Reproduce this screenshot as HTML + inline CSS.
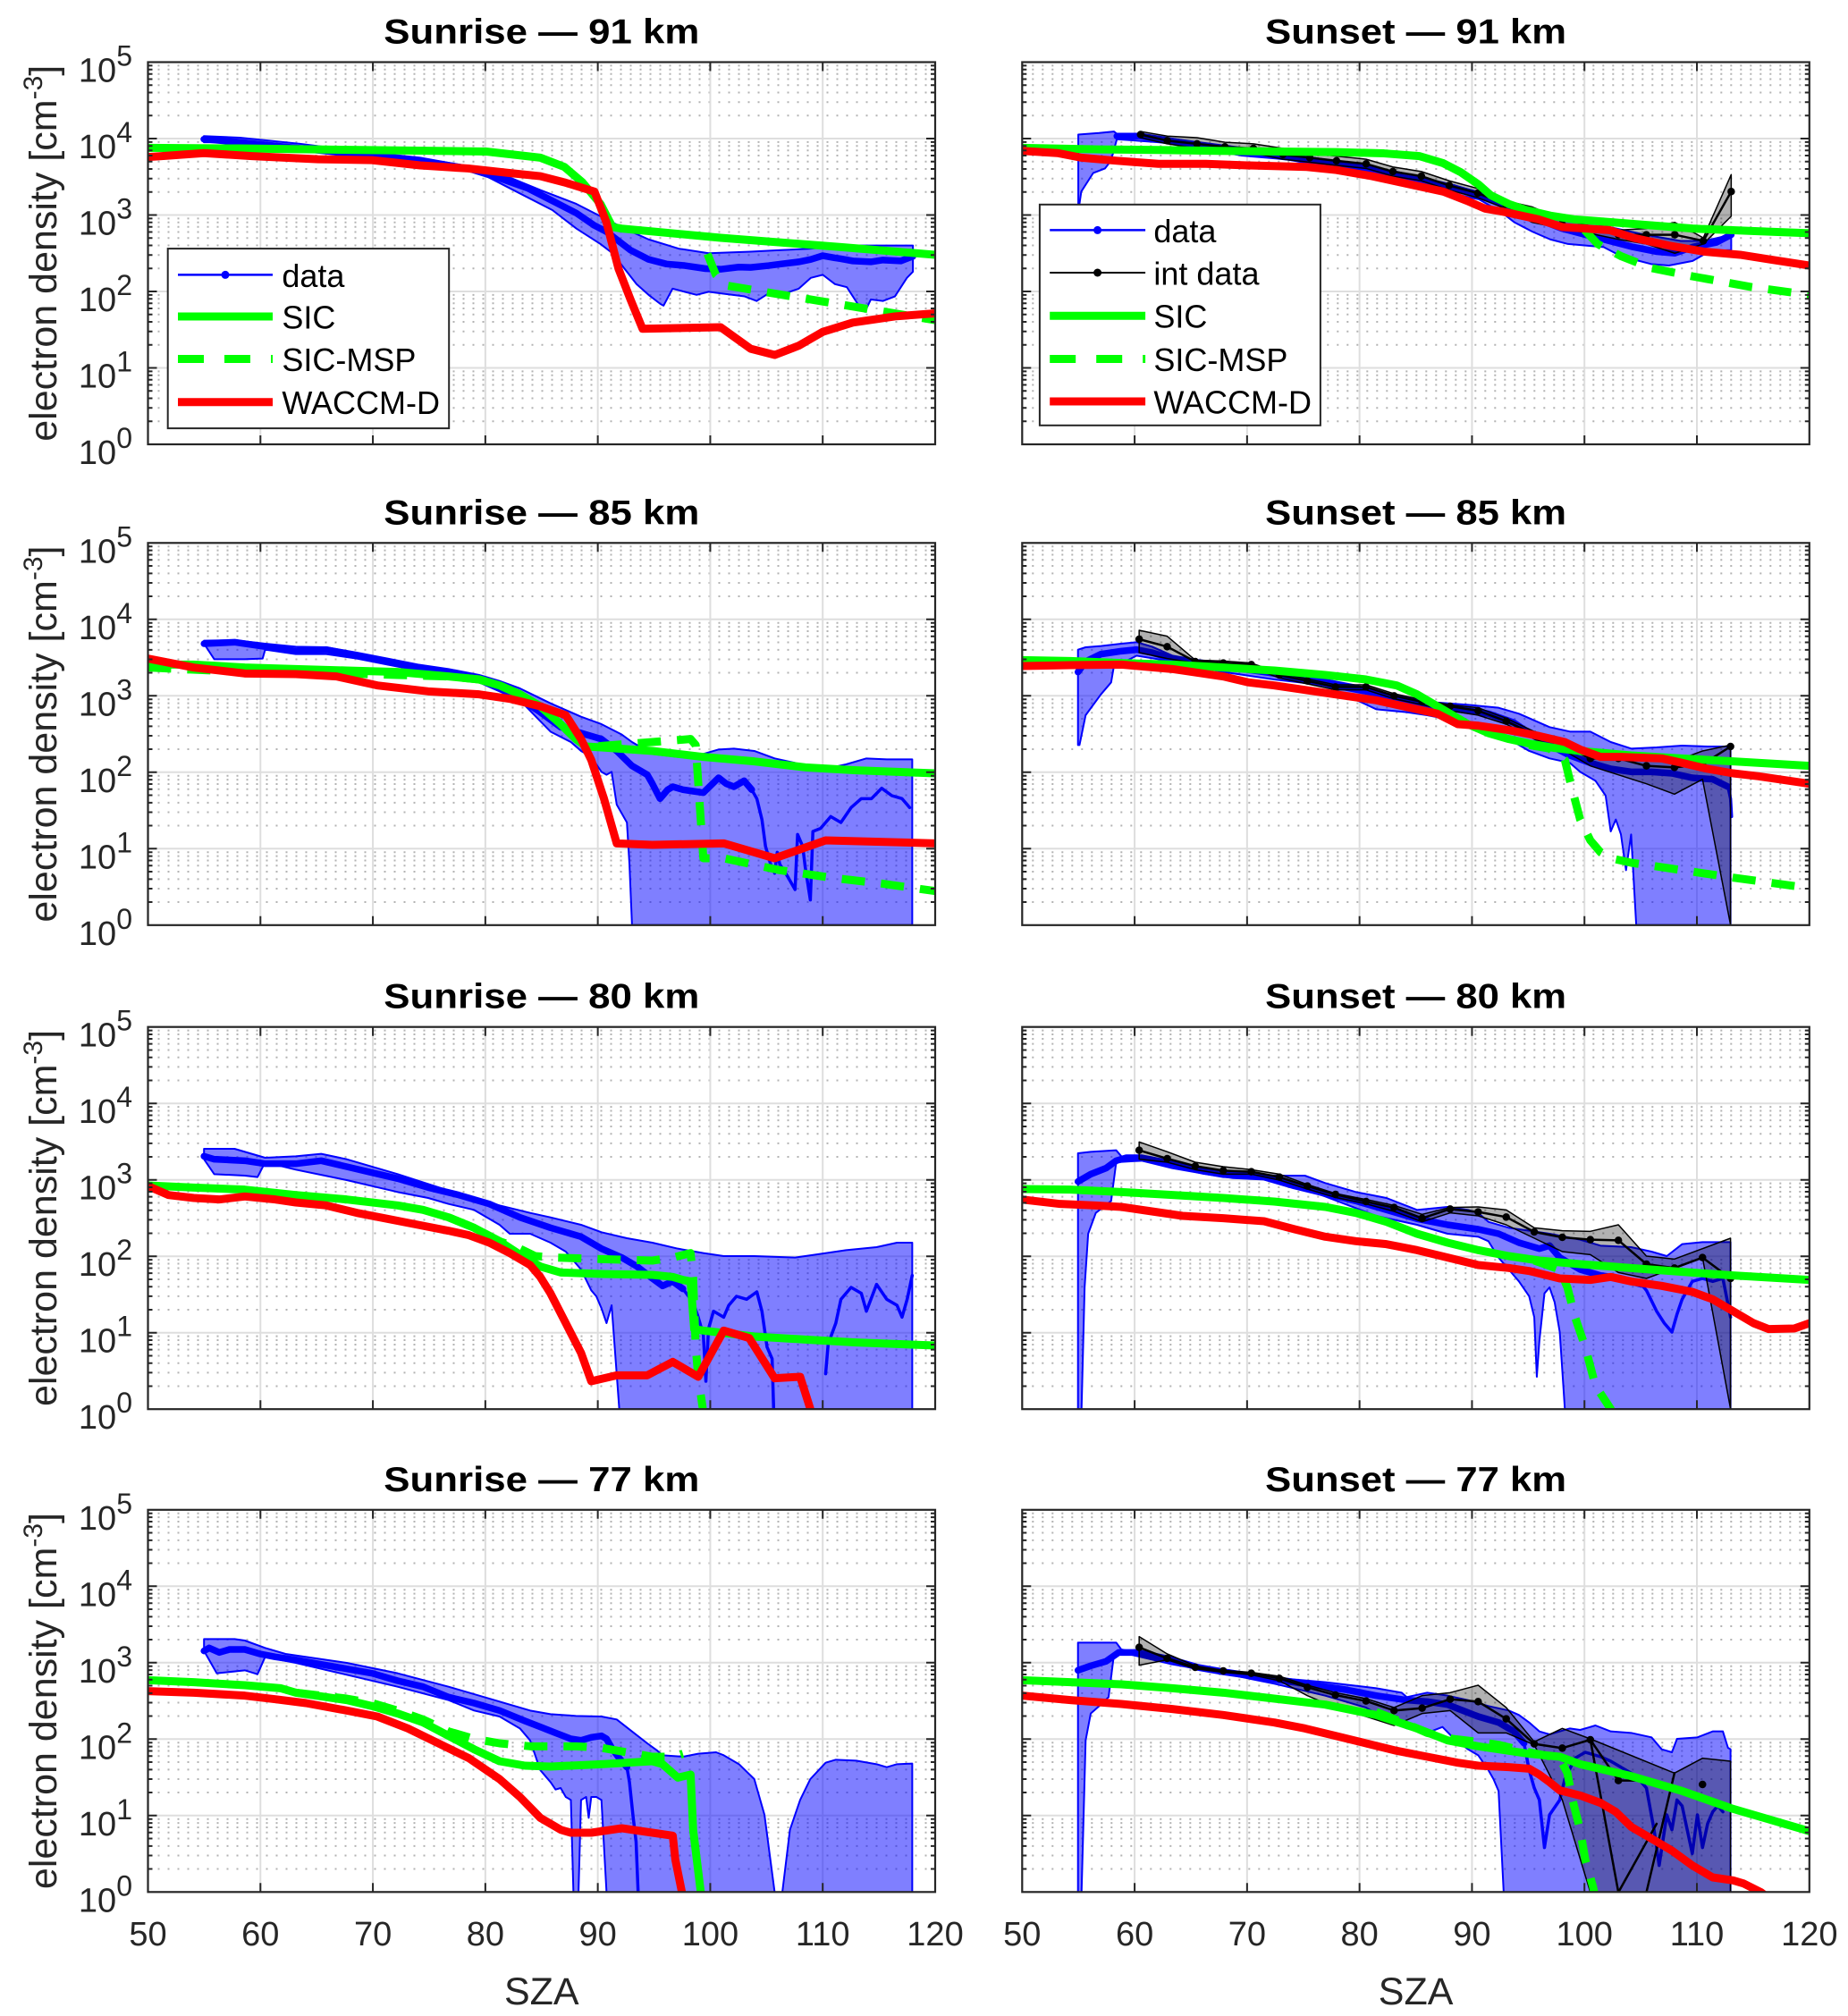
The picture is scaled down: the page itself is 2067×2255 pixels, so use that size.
<!DOCTYPE html>
<html><head><meta charset="utf-8">
<style>
body{margin:0;background:#fff}
svg{display:block;font-family:"Liberation Sans",Arial,sans-serif}
.n{vector-effect:non-scaling-stroke;fill:none;stroke-linejoin:round;stroke-linecap:round}
.sic{stroke:#00ff00;stroke-width:9}
.msp{stroke:#00ff00;stroke-width:9;stroke-dasharray:26 18;stroke-linecap:butt}
.wac{stroke:#ff0000;stroke-width:9}
.dat{stroke:#0000ff;stroke-width:7.5}
.dtl{stroke:#0000ff;stroke-width:3.5}
.bd{vector-effect:non-scaling-stroke;fill:#0000ff;fill-opacity:.5;stroke:#0000ff;stroke-width:2;stroke-linejoin:round}
.gb{vector-effect:non-scaling-stroke;fill:#000;fill-opacity:.3;stroke:#000;stroke-width:1.5;stroke-linejoin:round}
.int{stroke:#000;stroke-width:2.5}
.dot{stroke:#000;stroke-width:8.5}
.tk{font-size:38px;fill:#262626}
.ti{font-size:39px;font-weight:bold;fill:#000}
.lb{font-size:43px;fill:#262626}
.lg{font-size:36px;fill:#000}
</style></head>
<body>
<svg width="2067" height="2255" viewBox="0 0 2067 2255" xmlns="http://www.w3.org/2000/svg">
<rect width="2067" height="2255" fill="#fff"/>
<defs>
<g id="grid">
<path d="M0 401.76H880.5M0 386.71H880.5M0 376.02H880.5M0 367.74H880.5M0 360.97H880.5M0 355.24H880.5M0 350.29H880.5M0 345.91H880.5M0 316.26H880.5M0 301.21H880.5M0 290.52H880.5M0 282.24H880.5M0 275.47H880.5M0 269.74H880.5M0 264.79H880.5M0 260.41H880.5M0 230.76H880.5M0 215.71H880.5M0 205.02H880.5M0 196.74H880.5M0 189.97H880.5M0 184.24H880.5M0 179.29H880.5M0 174.91H880.5M0 145.26H880.5M0 130.21H880.5M0 119.52H880.5M0 111.24H880.5M0 104.47H880.5M0 98.74H880.5M0 93.79H880.5M0 89.41H880.5M0 59.76H880.5M0 44.71H880.5M0 34.02H880.5M0 25.74H880.5M0 18.97H880.5M0 13.24H880.5M0 8.29H880.5M0 3.91H880.5" fill="none" stroke="#b3b3b3" stroke-width="2" stroke-dasharray="2 9"/>
<path d="M125.79 0V427.5M251.57 0V427.5M377.36 0V427.5M503.14 0V427.5M628.93 0V427.5M754.71 0V427.5M0 85.5H880.5M0 171H880.5M0 256.5H880.5M0 342H880.5" fill="none" stroke="#dedede" stroke-width="2"/>
</g>
<g id="frame" fill="none" stroke="#262626">
<rect x="0" y="0" width="880.5" height="427.5" stroke-width="2.2"/>
<path stroke-width="2" d="M0 85.5h10M0 171h10M0 256.5h10M0 342h10M880.5 85.5h-10M880.5 171h-10M880.5 256.5h-10M880.5 342h-10M125.79 427.5v-10M251.57 427.5v-10M377.36 427.5v-10M503.14 427.5v-10M628.93 427.5v-10M754.71 427.5v-10M125.79 0v10M251.57 0v10M377.36 0v10M503.14 0v10M628.93 0v10M754.71 0v10"/>
<path stroke-width="2" d="M0 401.76h5M0 386.71h5M0 376.02h5M0 367.74h5M0 360.97h5M0 355.24h5M0 350.29h5M0 345.91h5M0 316.26h5M0 301.21h5M0 290.52h5M0 282.24h5M0 275.47h5M0 269.74h5M0 264.79h5M0 260.41h5M0 230.76h5M0 215.71h5M0 205.02h5M0 196.74h5M0 189.97h5M0 184.24h5M0 179.29h5M0 174.91h5M0 145.26h5M0 130.21h5M0 119.52h5M0 111.24h5M0 104.47h5M0 98.74h5M0 93.79h5M0 89.41h5M0 59.76h5M0 44.71h5M0 34.02h5M0 25.74h5M0 18.97h5M0 13.24h5M0 8.29h5M0 3.91h5M880.5 401.76h-5M880.5 386.71h-5M880.5 376.02h-5M880.5 367.74h-5M880.5 360.97h-5M880.5 355.24h-5M880.5 350.29h-5M880.5 345.91h-5M880.5 316.26h-5M880.5 301.21h-5M880.5 290.52h-5M880.5 282.24h-5M880.5 275.47h-5M880.5 269.74h-5M880.5 264.79h-5M880.5 260.41h-5M880.5 230.76h-5M880.5 215.71h-5M880.5 205.02h-5M880.5 196.74h-5M880.5 189.97h-5M880.5 184.24h-5M880.5 179.29h-5M880.5 174.91h-5M880.5 145.26h-5M880.5 130.21h-5M880.5 119.52h-5M880.5 111.24h-5M880.5 104.47h-5M880.5 98.74h-5M880.5 93.79h-5M880.5 89.41h-5M880.5 59.76h-5M880.5 44.71h-5M880.5 34.02h-5M880.5 25.74h-5M880.5 18.97h-5M880.5 13.24h-5M880.5 8.29h-5M880.5 3.91h-5"/>
</g>
<clipPath id="c1"><rect x="165.5" y="69.5" width="880.5" height="427.5"/></clipPath>
<clipPath id="c2"><rect x="1143.3" y="69.5" width="880.5" height="427.5"/></clipPath>
<clipPath id="c3"><rect x="165.5" y="607.3" width="880.5" height="427.5"/></clipPath>
<clipPath id="c4"><rect x="1143.3" y="607.3" width="880.5" height="427.5"/></clipPath>
<clipPath id="c5"><rect x="165.5" y="1148.7" width="880.5" height="427.5"/></clipPath>
<clipPath id="c6"><rect x="1143.3" y="1148.7" width="880.5" height="427.5"/></clipPath>
<clipPath id="c7"><rect x="165.5" y="1688.8" width="880.5" height="427.5"/></clipPath>
<clipPath id="c8"><rect x="1143.3" y="1688.8" width="880.5" height="427.5"/></clipPath>
</defs>

<!-- grids -->
<use href="#grid" transform="translate(165.5,69.5)"/>
<use href="#grid" transform="translate(1143.3,69.5)"/>
<use href="#grid" transform="translate(165.5,607.3)"/>
<use href="#grid" transform="translate(1143.3,607.3)"/>
<use href="#grid" transform="translate(165.5,1148.7)"/>
<use href="#grid" transform="translate(1143.3,1148.7)"/>
<use href="#grid" transform="translate(165.5,1688.8)"/>
<use href="#grid" transform="translate(1143.3,1688.8)"/>

<!-- Panel 1: Sunrise 91 -->
<g clip-path="url(#c1)"><g transform="matrix(0.67213 0 0 0.34476 -0.52 0.55)">
<path class="bd" d="M340,440 L400,445 500,465 600,490 700,510 800,545 850,575 900,615 960,660 1000,700 1040,740 1080,775 1130,805 1180,820 1250,815 1300,810 1350,805 1400,795 1450,795 1520,795 L1520,880 1510,900 1500,930 1490,960 1470,975 1450,970 1440,1010 1430,990 1410,930 1390,920 1370,890 1350,900 1330,935 1300,955 1280,950 1260,975 1240,960 1200,950 1180,945 1160,955 1140,945 1120,935 1105,990 1100,985 1080,955 1060,920 1040,870 1020,820 1000,790 960,740 920,680 860,620 800,560 700,525 600,505 500,480 400,460 340,460 Z"/>
<path class="n dat" d="M340,450 L400,460 500,480 600,500 700,520 780,545 830,575 880,610 920,650 960,690 990,730 1010,750 1030,780 1050,810 1080,840 1110,855 1140,860 1175,870 1200,872 1230,865 1250,866 1280,860 1300,855 1330,848 1350,840 1370,828 1390,835 1400,838 1420,845 1450,848 1470,842 1500,845 1520,830"/>
<path class="n sic" d="M247,478 L400,480 600,485 810,490 900,510 940,540 970,590 1000,660 1020,735 1035,740 1200,770 1400,800 1557,825"/>
<path class="n msp" d="M1178,822 L1192,890 1210,925 1557,1037"/>
<path class="n wac" d="M247,508 L270,505 340,495 420,505 530,515 620,518 700,535 780,545 850,560 900,570 940,590 990,620 1010,720 1030,870 1050,970 1070,1065 1200,1060 1250,1130 1290,1150 1330,1120 1370,1075 1420,1045 1490,1025 1557,1015"/>
</g></g>

<!-- Panel 2: Sunset 91 -->
<g clip-path="url(#c2)"><g transform="matrix(0.6639 0 0 0.34476 1030.14 0.55)">
<path class="bd" d="M265,435 L300,430 325,425 335,440 370,438 420,448 500,468 600,492 700,522 800,555 900,600 960,635 1000,660 1040,680 1100,710 1160,735 1220,760 1280,780 1320,780 1365,760 L1365,810 1330,812 1300,845 1260,860 1230,855 1200,840 1170,820 1150,800 1120,795 1090,790 1060,775 1030,750 1000,720 980,690 940,645 880,620 800,580 700,545 600,510 500,480 400,460 330,450 320,520 310,545 290,560 270,620 267,660 265,660 Z"/>
<path class="n dat" d="M330,440 L370,440 420,455 480,475 540,495 600,505 650,515 700,530 750,545 800,570 850,590 900,610 940,630 970,650 1000,680 1040,710 1080,740 1120,760 1160,780 1200,800 1240,815 1270,820 1300,800 1340,785 1365,760"/>
<path class="gb" d="M370,425 L415,440 465,445 512,460 560,465 610,480 655,495 700,505 750,515 795,540 843,555 890,585 938,610 985,650 1030,670 1080,710 1125,730 1175,745 1222,740 1270,720 1318,770 1365,565 L1365,700 1318,790 1270,820 1222,790 1175,775 1125,755 1080,740 1030,720 985,675 938,640 890,615 843,585 795,570 750,545 700,535 655,525 610,515 560,495 512,490 465,480 415,465 370,445 Z"/>
<path class="n int" d="M370,435 L415,455 465,465 512,475 560,480 610,500 655,510 700,520 750,530 795,555 843,570 890,600 938,625 985,660 1030,700 1080,725 1125,740 1175,760 1222,760 1270,760 1318,780 1365,620"/>
<path class="n dot" d="M370,435h.01M415,455h.01M465,465h.01M512,475h.01M560,480h.01M610,500h.01M655,510h.01M700,520h.01M750,530h.01M795,555h.01M843,570h.01M890,600h.01M938,625h.01M985,660h.01M1030,700h.01M1080,725h.01M1125,740h.01M1175,760h.01M1222,760h.01M1270,760h.01M1318,780h.01M1365,620h.01"/>
<path class="n sic" d="M170,478 L300,483 400,485 500,488 600,490 700,492 780,496 840,505 880,528 910,558 940,598 960,632 990,660 1020,680 1060,698 1100,710 1200,725 1300,740 1400,748 1497,755"/>
<path class="n msp" d="M1118,745 L1140,790 1180,830 1230,868 1300,895 1400,930 1497,955"/>
<path class="n wac" d="M170,488 L230,495 270,510 330,520 400,530 480,530 550,535 650,540 700,550 760,570 820,595 880,620 920,650 950,675 980,685 1040,710 1080,735 1120,740 1160,745 1200,770 1260,795 1320,815 1380,825 1430,840 1497,860"/>
</g></g>

<!-- Panel 3: Sunrise 85 -->
<g clip-path="url(#c3)"><g transform="matrix(0.5699 0 0 0.33333 159.8 600)">
<path class="bd" d="M120,350 L180,348 240,360 300,370 360,372 420,390 480,410 540,430 600,445 660,465 700,485 740,510 800,560 860,605 900,630 940,665 960,690 1000,730 1050,740 1100,730 1130,715 1160,712 1200,720 1240,745 1280,760 1300,780 1340,780 1380,765 1420,745 1460,748 1510,748 L1510,1304 960,1304 955,1100 950,960 930,900 920,790 910,800 900,790 880,740 860,720 840,690 800,655 780,620 740,550 700,520 660,490 600,470 540,450 480,430 420,410 360,395 300,395 240,380 235,410 200,412 140,412 120,360 Z"/>
<path class="n dat" d="M120,360 L180,355 240,370 300,385 360,380 420,400 480,420 540,440 600,455 660,480 700,510 740,545 780,590 820,640 860,660 900,680 930,720 960,770 990,800 1000,830 1015,880 1030,850 1040,840 1060,850 1080,855 1100,860 1115,835 1130,810 1145,830 1160,840 1180,820 1195,850"/>
<path class="n dtl" d="M1195,850 L1205,880 1215,950 1222,1040 1232,1100 1240,1130 1245,1060 1250,1100 1265,1140 1280,1185 1285,1000 1295,1040 1300,1110 1310,1220 1315,990 1330,980 1350,940 1370,960 1390,910 1410,880 1430,880 1450,845 1470,870 1490,880 1505,910"/>
<path class="n sic" d="M10,430 L100,430 200,440 300,445 400,450 500,455 600,470 660,480 700,500 740,530 780,570 820,630 850,680 870,705 900,708 1000,720 1100,740 1200,755 1300,775 1400,785 1555,795"/>
<path class="n msp" d="M10,440 L200,455 300,460 400,460 500,465 600,470 660,480 700,500 740,530 780,570 820,630 850,680 870,705 900,703 960,695 1000,690 1075,680 1085,700 1100,1080 1140,1080 1250,1120 1350,1145 1450,1165 1555,1190"/>
<path class="n wac" d="M10,410 L100,440 200,460 300,462 380,470 460,500 560,520 660,530 720,545 780,570 830,600 860,680 880,750 905,880 930,1030 1000,1035 1140,1030 1240,1080 1340,1020 1555,1030"/>
</g></g>

<!-- Panel 4: Sunset 85 -->
<g clip-path="url(#c4)"><g transform="matrix(0.57023 0 0 0.33333 1140.15 600)">
<path class="bd" d="M115,380 L130,372 160,368 200,360 230,355 260,370 300,400 400,430 500,455 600,480 660,500 700,520 800,555 880,565 940,575 980,595 1040,640 1080,655 1120,655 1160,690 1200,712 1250,708 1300,702 1350,705 1395,705 L1395,1304 1210,1304 1200,1000 1190,1120 1180,1000 1170,950 1160,990 1150,870 1130,820 1100,790 1080,760 1040,745 1000,720 960,680 900,640 860,620 800,600 760,590 700,580 600,500 500,480 400,455 300,420 230,400 185,440 180,490 160,530 130,600 118,700 115,700 Z"/>
<path class="n dat" d="M115,455 L130,420 160,395 200,385 230,380 260,390 300,410 330,420 360,425 420,440 500,460 560,480 620,500 680,520 740,545 800,570 860,580 920,595 970,625 1000,660 1040,700 1080,735 1120,760 1160,780 1200,790 1240,790 1280,795 1320,810 1360,815 1390,840"/>
<path class="n dtl" d="M1390,840 L1395,880 1397,940"/>
<path class="gb" d="M235,315 L290,335 345,415 400,418 455,425 510,458 565,478 620,498 680,498 735,528 790,548 845,565 900,575 955,610 1010,655 1065,690 1120,730 1175,735 1230,745 1285,755 1340,720 1395,700 L1395,1304 1340,815 1285,865 1230,830 1175,800 1120,770 1065,715 1010,680 955,630 900,600 845,585 790,565 735,545 680,515 620,515 565,495 510,475 455,440 400,435 345,425 290,410 235,390 Z"/>
<path class="n int" d="M235,345 L290,370 345,420 400,425 455,430 510,465 565,485 620,505 680,505 735,535 790,555 845,570 900,585 955,620 1010,665 1065,700 1120,745 1175,745 1230,770 1285,775 1340,765 1395,705"/>
<path class="n dot" d="M235,345h.01M290,370h.01M345,420h.01M400,425h.01M455,430h.01M510,465h.01M565,485h.01M620,505h.01M680,505h.01M735,535h.01M790,555h.01M845,570h.01M900,585h.01M955,620h.01M1010,665h.01M1065,700h.01M1120,745h.01M1175,745h.01M1230,770h.01M1285,775h.01M1340,765h.01M1395,705h.01"/>
<path class="n sic" d="M5,415 L100,418 200,425 300,430 400,440 500,450 600,465 680,480 740,500 780,530 820,570 850,600 880,630 920,660 960,680 1000,695 1050,710 1100,720 1200,735 1300,745 1400,755 1550,770"/>
<path class="n msp" d="M1000,700 L1040,712 1070,750 1080,820 1100,950 1120,1020 1140,1060 1160,1080 1200,1095 1300,1120 1400,1145 1550,1180"/>
<path class="n wac" d="M5,435 L100,432 200,430 300,445 400,470 450,490 500,500 560,515 620,530 700,550 780,580 820,595 860,630 900,635 960,650 1020,670 1070,690 1100,715 1140,740 1180,740 1260,745 1300,760 1350,780 1400,795 1450,805 1550,830"/>
</g></g>

<!-- Panel 5: Sunrise 80 -->
<g clip-path="url(#c5)"><g transform="matrix(0.5699 0 0 0.33333 159.8 1140)">
<path class="bd" d="M120,435 L180,435 240,465 300,460 350,452 400,470 500,520 600,575 700,625 760,650 800,665 860,690 900,715 950,735 1000,750 1050,770 1100,785 1140,795 1200,795 1280,800 1320,790 1380,775 1440,765 1480,750 1510,750 L1510,1308 935,1308 920,960 910,1020 900,970 890,930 880,910 860,840 830,780 800,750 760,720 720,720 700,690 650,640 600,620 560,600 500,580 450,560 400,540 300,505 240,480 225,530 200,525 140,520 120,470 Z"/>
<path class="n dat" d="M120,460 L140,470 200,475 240,485 300,485 350,475 400,495 450,515 500,535 560,565 620,590 680,620 740,665 800,700 860,730 900,770 940,800 970,830 1000,870 1020,895 1040,880 1060,905"/>
<path class="n dtl" d="M1060,905 L1080,950 1090,1000 1100,1060 1105,1215 1110,1040 1120,980 1140,1000 1150,960 1165,930 1185,940 1205,915 1215,980 1225,1100 1235,1140 1238,1308 M1340,1190 L1345,1090 1360,1020 1370,940 1390,900 1410,920 1420,980 1440,890 1460,940 1480,960 1490,1000 1500,940 1510,860"/>
<path class="n sic" d="M10,558 L100,565 200,572 300,590 400,605 500,625 550,640 600,665 650,700 700,745 740,790 780,830 820,850 900,855 1000,858 1040,865 1060,875 1075,880 1082,1040 1100,1045 1200,1065 1300,1075 1400,1085 1555,1095"/>
<path class="n msp" d="M600,665 L650,700 700,745 740,770 770,795 810,800 900,805 1000,810 1040,800 1075,785 1080,870 1085,1100 1090,1200 1100,1320"/>
<path class="n wac" d="M10,560 L50,590 100,600 150,605 200,595 260,605 300,615 360,625 420,650 480,670 540,690 600,710 640,725 680,750 720,785 760,825 780,865 800,920 830,1020 860,1120 880,1215 930,1195 990,1195 1040,1150 1090,1200 1140,1045 1190,1070 1240,1205 1290,1200 1310,1308 1312,1330"/>
</g></g>

<!-- Panel 6: Sunset 80 -->
<g clip-path="url(#c6)"><g transform="matrix(0.57023 0 0 0.33333 1140.15 1140)">
<path class="bd" d="M115,450 L140,445 190,440 200,460 240,465 300,485 400,510 500,525 560,525 600,550 660,580 720,600 780,640 840,630 880,640 900,650 920,680 960,700 1000,710 1040,720 1100,740 1140,760 1200,765 1240,780 1270,795 1300,755 1340,748 1395,748 L1395,1308 1070,1308 1060,1050 1050,950 1040,900 1030,920 1020,1080 1015,1200 1010,1000 1000,930 980,880 960,840 940,800 920,745 900,730 840,720 780,690 700,660 600,595 500,535 400,530 300,500 240,475 190,480 180,610 150,650 135,720 128,900 122,1308 115,1308 Z"/>
<path class="n dat" d="M115,545 L140,520 170,500 190,475 210,465 240,465 300,485 360,510 420,525 480,530 540,560 600,585 660,610 720,640 780,670 840,690 900,705 940,720 980,750 1020,770 1040,760 1060,800 1080,820 1100,840 1140,860 1180,870 1220,890"/>
<path class="n dtl" d="M1220,890 L1230,910 1250,980 1265,1020 1280,1050 1290,990 1300,940 1320,880 1340,870 1360,880 1380,870 1395,1000"/>
<path class="gb" d="M235,412 L290,445 345,480 400,495 455,505 510,520 565,555 620,585 680,605 735,625 790,655 845,632 900,630 955,640 1010,700 1065,710 1120,712 1175,690 1230,795 1285,805 1340,770 1395,735 L1395,1308 1340,800 1285,835 1230,870 1175,850 1120,790 1065,780 1010,735 955,690 900,660 845,650 790,680 735,645 680,620 620,598 565,570 510,540 455,520 400,520 345,505 290,480 235,470 Z"/>
<path class="n int" d="M235,440 L290,468 345,493 400,508 455,512 510,530 565,560 620,588 680,612 735,632 790,668 845,637 900,647 955,664 1010,714 1065,732 1120,740 1175,742 1230,822 1285,835 1340,800 1395,870"/>
<path class="n dot" d="M235,440h.01M290,468h.01M345,493h.01M400,508h.01M455,512h.01M510,530h.01M565,560h.01M620,588h.01M680,612h.01M735,632h.01M790,668h.01M845,637h.01M900,647h.01M955,664h.01M1010,714h.01M1065,732h.01M1120,740h.01M1175,742h.01M1230,822h.01M1285,835h.01M1340,800h.01M1395,870h.01"/>
<path class="n sic" d="M5,570 L100,572 200,580 300,590 400,600 500,612 600,630 660,650 720,680 780,720 840,750 900,775 960,795 1020,810 1100,822 1200,835 1300,848 1400,860 1550,875"/>
<path class="n msp" d="M1010,810 L1060,840 1075,900 1090,1000 1110,1100 1130,1230 1160,1308 1165,1330"/>
<path class="n wac" d="M5,605 L80,620 150,625 200,630 260,645 320,660 400,668 480,678 540,705 600,730 660,745 720,755 780,775 840,800 900,825 960,835 1000,845 1060,870 1120,875 1160,865 1200,880 1260,895 1320,915 1360,940 1400,980 1440,1020 1470,1040 1520,1038 1550,1020"/>
</g></g>

<!-- Panel 7: Sunrise 77 -->
<g clip-path="url(#c7)"><g transform="matrix(0.5699 0 0 0.33333 159.8 1680)">
<path class="bd" d="M120,460 L180,460 200,465 240,490 280,510 340,525 400,540 500,575 600,620 700,670 760,700 800,712 850,718 900,720 930,730 960,770 990,810 1010,835 1020,850 1060,855 1090,845 1125,840 1140,850 1170,880 1200,930 1220,1050 1240,1310 1255,1310 1270,1100 1290,1000 1310,930 1340,875 1360,865 1400,868 1440,880 1460,890 1480,880 1510,878 L1510,1310 910,1310 900,1000 890,990 880,990 875,1060 870,990 860,1000 855,1310 845,1310 840,1000 830,990 820,960 810,965 800,940 790,920 780,900 760,800 740,760 700,720 650,700 600,665 500,620 400,580 300,540 240,520 225,578 200,565 145,575 120,500 Z"/>
<path class="n dat" d="M120,500 L130,490 150,505 170,495 200,495 230,510 260,520 300,530 350,545 400,560 450,575 500,600 550,620 600,655 650,675 700,700 750,735 780,755 810,775 840,795 860,800 880,790 900,785 910,795 920,825 935,860 950,890"/>
<path class="n dtl" d="M950,890 L955,940 962,1054 968,1140 970,1225 972,1310"/>
<path class="n sic" d="M10,598 L100,605 200,615 270,625 300,640 400,665 450,685 500,710 550,740 600,785 650,830 700,870 750,885 800,888 900,880 1000,870 1020,880 1040,910 1050,925 1075,915 1080,1100 1095,1310 1097,1330"/>
<path class="n msp" d="M300,640 L400,660 450,675 500,700 550,730 600,770 650,795 700,810 760,820 850,820 900,825 950,840 1000,855 1040,855 1060,845"/>
<path class="n wac" d="M10,635 L100,640 200,650 260,662 320,675 400,700 460,720 520,760 580,810 640,860 700,930 740,990 780,1060 820,1100 840,1110 880,1110 940,1095 1000,1110 1040,1120 1045,1200 1058,1310 1060,1330"/>
</g></g>

<!-- Panel 8: Sunset 77 -->
<g clip-path="url(#c8)"><g transform="matrix(0.57023 0 0 0.33333 1140.15 1680)">
<path class="bd" d="M115,472 L190,472 200,495 230,505 300,530 400,565 500,590 600,605 700,625 750,640 760,655 800,640 840,650 880,665 920,685 960,700 980,715 1000,740 1020,770 1040,780 1080,760 1100,765 1130,750 1160,770 1200,775 1240,790 1260,830 1280,840 1290,795 1330,790 1360,770 1380,770 1390,825 1395,830 L1395,1310 950,1310 940,970 930,930 920,900 900,850 880,830 850,790 830,755 800,775 760,760 720,730 680,690 600,650 500,610 400,575 300,545 200,505 185,520 175,655 160,680 140,710 130,800 122,1310 115,1310 Z"/>
<path class="n dat" d="M115,565 L140,550 170,535 195,505 230,505 260,515 300,530 350,555 400,570 460,585 520,600 580,615 640,630 700,650 760,665 800,670 840,680 870,700 900,720 940,740 970,770 990,810"/>
<path class="n dtl" d="M990,810 L1000,900 1010,960 1020,1000 1030,1160 1040,1050 1060,1000 1070,930 1090,860 1110,840 1140,855 1160,870 1190,900 1210,920 1230,960 1245,1100 1255,1220 1270,1050 1280,1100 1290,1000 1300,1020 1320,1180 1330,1050 1340,1160 1350,1080 1360,1040 1370,1020 1380,1040"/>
<path class="gb" d="M235,452 L290,510 345,550 400,565 455,572 510,585 565,615 620,640 680,660 735,690 790,650 845,640 900,615 955,690 1010,805 1065,760 1120,795 1285,910 1340,860 1395,870 L1395,1310 1120,1310 1065,1000 1010,815 955,775 900,775 845,700 790,710 735,750 680,720 620,690 565,650 510,600 455,580 400,572 345,560 290,530 235,548 Z"/>
<path class="n int" d="M235,488 L290,525 345,555 400,567 455,575 510,592 565,622 620,648 680,668 735,700 790,692 845,662 900,670 955,728 1010,812 1065,826 1120,798 1175,935 1230,935 M1120,798 L1175,1310 1250,1080 M1230,1310 L1285,910"/>
<path class="n dot" d="M235,488h.01M290,525h.01M345,555h.01M400,567h.01M455,575h.01M510,592h.01M565,622h.01M620,648h.01M680,668h.01M735,700h.01M790,692h.01M845,662h.01M900,670h.01M955,728h.01M1010,812h.01M1065,826h.01M1120,798h.01M1175,935h.01M1340,948h.01"/>
<path class="n sic" d="M5,598 L100,605 200,612 300,625 400,640 500,660 600,680 700,715 780,760 840,800 900,820 960,835 1000,845 1060,855 1100,880 1150,900 1200,920 1260,950 1300,970 1350,1000 1400,1030 1460,1060 1550,1105"/>
<path class="n msp" d="M700,705 L760,745 800,775 850,795 900,805 940,815 1000,840 1060,860 1075,910 1085,1000 1100,1100 1110,1200 1125,1290 1130,1330"/>
<path class="n wac" d="M5,650 L100,665 200,678 300,695 400,715 500,740 560,760 620,785 680,810 740,835 800,855 860,875 900,885 960,890 1000,895 1020,915 1040,940 1060,968 1100,985 1140,1010 1170,1040 1200,1090 1240,1130 1280,1170 1320,1220 1360,1260 1400,1270 1420,1280 1455,1310 1470,1330"/>
</g></g>

<!-- frames -->
<use href="#frame" transform="translate(165.5,69.5)"/>
<use href="#frame" transform="translate(1143.3,69.5)"/>
<use href="#frame" transform="translate(165.5,607.3)"/>
<use href="#frame" transform="translate(1143.3,607.3)"/>
<use href="#frame" transform="translate(165.5,1148.7)"/>
<use href="#frame" transform="translate(1143.3,1148.7)"/>
<use href="#frame" transform="translate(165.5,1688.8)"/>
<use href="#frame" transform="translate(1143.3,1688.8)"/>

<!-- Legend 1 -->
<rect x="187.7" y="278.1" width="314.5" height="201" fill="#fff" stroke="#262626" stroke-width="2"/>
<line x1="199" y1="307.4" x2="305" y2="307.4" stroke="#0000ff" stroke-width="2.5"/>
<circle cx="252" cy="307.4" r="4.5" fill="#0000ff"/>
<line x1="199" y1="354" x2="305" y2="354" stroke="#00ff00" stroke-width="9"/>
<line x1="199" y1="401.5" x2="305" y2="401.5" stroke="#00ff00" stroke-width="9" stroke-dasharray="29 23"/>
<line x1="199" y1="449.8" x2="305" y2="449.8" stroke="#ff0000" stroke-width="9"/>
<text class="lg" x="315.4" y="320.8">data</text>
<text class="lg" x="315.4" y="367.4">SIC</text>
<text class="lg" x="315.4" y="414.9">SIC-MSP</text>
<text class="lg" x="315.4" y="463.2">WACCM-D</text>

<!-- Legend 2 -->
<rect x="1162.9" y="228.8" width="314" height="247" fill="#fff" stroke="#262626" stroke-width="2"/>
<line x1="1174.2" y1="257.4" x2="1281.1" y2="257.4" stroke="#0000ff" stroke-width="2.5"/>
<circle cx="1227.6" cy="257.4" r="4.5" fill="#0000ff"/>
<line x1="1174.2" y1="305" x2="1281.1" y2="305" stroke="#000" stroke-width="2"/>
<circle cx="1227.6" cy="305" r="4.5" fill="#000"/>
<line x1="1174.2" y1="353.3" x2="1281.1" y2="353.3" stroke="#00ff00" stroke-width="9"/>
<line x1="1174.2" y1="401.5" x2="1281.1" y2="401.5" stroke="#00ff00" stroke-width="9" stroke-dasharray="29 23"/>
<line x1="1174.2" y1="449" x2="1281.1" y2="449" stroke="#ff0000" stroke-width="9"/>
<text class="lg" x="1290.4" y="270.8">data</text>
<text class="lg" x="1290.4" y="318.4">int data</text>
<text class="lg" x="1290.4" y="366.7">SIC</text>
<text class="lg" x="1290.4" y="414.9">SIC-MSP</text>
<text class="lg" x="1290.4" y="462.4">WACCM-D</text>

<!-- Titles -->
<text class="ti" x="605.8" y="48.5" text-anchor="middle" textLength="353" lengthAdjust="spacingAndGlyphs">Sunrise — 91 km</text>
<text class="ti" x="1583.6" y="48.5" text-anchor="middle" textLength="337" lengthAdjust="spacingAndGlyphs">Sunset — 91 km</text>
<text class="ti" x="605.8" y="586.3" text-anchor="middle" textLength="353" lengthAdjust="spacingAndGlyphs">Sunrise — 85 km</text>
<text class="ti" x="1583.6" y="586.3" text-anchor="middle" textLength="337" lengthAdjust="spacingAndGlyphs">Sunset — 85 km</text>
<text class="ti" x="605.8" y="1127.7" text-anchor="middle" textLength="353" lengthAdjust="spacingAndGlyphs">Sunrise — 80 km</text>
<text class="ti" x="1583.6" y="1127.7" text-anchor="middle" textLength="337" lengthAdjust="spacingAndGlyphs">Sunset — 80 km</text>
<text class="ti" x="605.8" y="1667.8" text-anchor="middle" textLength="353" lengthAdjust="spacingAndGlyphs">Sunrise — 77 km</text>
<text class="ti" x="1583.6" y="1667.8" text-anchor="middle" textLength="337" lengthAdjust="spacingAndGlyphs">Sunset — 77 km</text>

<!-- Y tick labels -->
<g class="tk" text-anchor="end">
<text x="148" y="91.5">10<tspan dy="-18" font-size="32">5</tspan></text>
<text x="148" y="177">10<tspan dy="-18" font-size="32">4</tspan></text>
<text x="148" y="262.5">10<tspan dy="-18" font-size="32">3</tspan></text>
<text x="148" y="348">10<tspan dy="-18" font-size="32">2</tspan></text>
<text x="148" y="433.5">10<tspan dy="-18" font-size="32">1</tspan></text>
<text x="148" y="519">10<tspan dy="-18" font-size="32">0</tspan></text>
<text x="148" y="629.3">10<tspan dy="-18" font-size="32">5</tspan></text>
<text x="148" y="714.8">10<tspan dy="-18" font-size="32">4</tspan></text>
<text x="148" y="800.3">10<tspan dy="-18" font-size="32">3</tspan></text>
<text x="148" y="885.8">10<tspan dy="-18" font-size="32">2</tspan></text>
<text x="148" y="971.3">10<tspan dy="-18" font-size="32">1</tspan></text>
<text x="148" y="1056.8">10<tspan dy="-18" font-size="32">0</tspan></text>
<text x="148" y="1170.7">10<tspan dy="-18" font-size="32">5</tspan></text>
<text x="148" y="1256.2">10<tspan dy="-18" font-size="32">4</tspan></text>
<text x="148" y="1341.7">10<tspan dy="-18" font-size="32">3</tspan></text>
<text x="148" y="1427.2">10<tspan dy="-18" font-size="32">2</tspan></text>
<text x="148" y="1512.7">10<tspan dy="-18" font-size="32">1</tspan></text>
<text x="148" y="1598.2">10<tspan dy="-18" font-size="32">0</tspan></text>
<text x="148" y="1710.8">10<tspan dy="-18" font-size="32">5</tspan></text>
<text x="148" y="1796.3">10<tspan dy="-18" font-size="32">4</tspan></text>
<text x="148" y="1881.8">10<tspan dy="-18" font-size="32">3</tspan></text>
<text x="148" y="1967.3">10<tspan dy="-18" font-size="32">2</tspan></text>
<text x="148" y="2052.8">10<tspan dy="-18" font-size="32">1</tspan></text>
<text x="148" y="2138.3">10<tspan dy="-18" font-size="32">0</tspan></text>
</g>

<!-- X tick labels -->
<g class="tk" text-anchor="middle">
<text x="165.5" y="2176">50</text><text x="291.3" y="2176">60</text><text x="417.1" y="2176">70</text><text x="542.9" y="2176">80</text><text x="668.6" y="2176">90</text><text x="794.4" y="2176">100</text><text x="920.2" y="2176">110</text><text x="1046" y="2176">120</text>
<text x="1143.3" y="2176">50</text><text x="1269.1" y="2176">60</text><text x="1394.9" y="2176">70</text><text x="1520.7" y="2176">80</text><text x="1646.4" y="2176">90</text><text x="1772.2" y="2176">100</text><text x="1898" y="2176">110</text><text x="2023.8" y="2176">120</text>
</g>

<!-- Axis labels -->
<g class="lb" text-anchor="middle">
<text transform="translate(63,283.25) rotate(-90)">electron density [cm<tspan dy="-16" font-size="30">-3</tspan><tspan dy="16">]</tspan></text>
<text transform="translate(63,821.05) rotate(-90)">electron density [cm<tspan dy="-16" font-size="30">-3</tspan><tspan dy="16">]</tspan></text>
<text transform="translate(63,1362.45) rotate(-90)">electron density [cm<tspan dy="-16" font-size="30">-3</tspan><tspan dy="16">]</tspan></text>
<text transform="translate(63,1902.55) rotate(-90)">electron density [cm<tspan dy="-16" font-size="30">-3</tspan><tspan dy="16">]</tspan></text>
<text x="605.8" y="2242">SZA</text>
<text x="1583.6" y="2242">SZA</text>
</g>
</svg>
</body></html>
